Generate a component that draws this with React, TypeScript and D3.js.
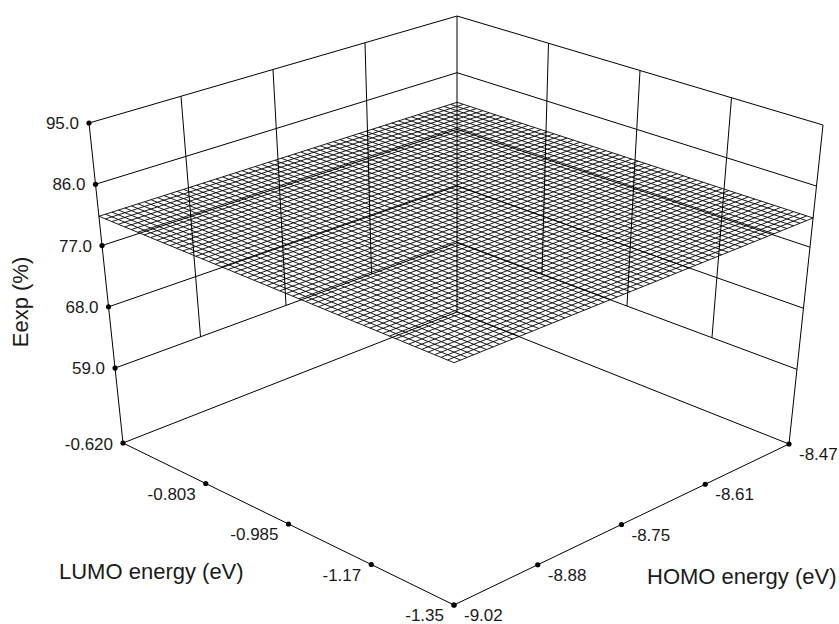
import { useEffect, useRef } from "react"
import * as d3 from "d3"

// HOMO energy axis (eV)
const homoTicks = [-9.02, -8.8825, -8.745, -8.6075, -8.47]
const homoLabels = ["-9.02", "-8.88", "-8.75", "-8.61", "-8.47"]

// LUMO energy axis (eV)
const lumoTicks = [-1.35, -1.1675, -0.985, -0.8025, -0.62]
const lumoLabels = ["-1.35", "-1.17", "-0.985", "-0.803", "-0.620"]

// Eexp (%) axis, the box floor sits a little under the first tick
const eexpTicks = [59, 68, 77, 86, 95]
const eexpLabels = ["59.0", "68.0", "77.0", "86.0", "95.0"]
const eexpFloor = 48

// fitted model in coded units: intercept, HOMO, LUMO (almost a flat plane)
const modelCoef = [81.3, 0.0, 0.0]
const meshSteps = 55

type P3 = [number, number, number]

const App = () => {
  const svgRef = useRef<SVGSVGElement>(null)

  useEffect(() => {
    if (!svgRef.current) return
    const svg = d3.select(svgRef.current)
    svg.selectAll("*").remove()

    const font = "'Liberation Sans', Arial, Helvetica, sans-serif"
    const ink = "#000"

    const homoDom = [homoTicks[0], homoTicks[homoTicks.length - 1]]
    const lumoDom = [lumoTicks[0], lumoTicks[lumoTicks.length - 1]]
    const eexpTop = eexpTicks[eexpTicks.length - 1]

    const xs = d3.scaleLinear().domain(homoDom).range([0, 1])
    const ys = d3.scaleLinear().domain(lumoDom).range([0, 1])
    const zs = d3.scaleLinear().domain([eexpFloor, eexpTop]).range([0, 1])

    // screen corners of the box (front/right/left/back) at floor and top
    const floor = { f: [454, 605], r: [789, 444], l: [123, 443], b: [457, 312] }
    const top = { f: [454, 263], r: [823, 125], l: [89, 123], b: [457, 16] }

    const bilerp = (c: typeof floor, u: number, v: number) => {
      const wf = (1 - u) * (1 - v), wr = u * (1 - v), wl = (1 - u) * v, wb = u * v
      return [
        c.f[0] * wf + c.r[0] * wr + c.l[0] * wl + c.b[0] * wb,
        c.f[1] * wf + c.r[1] * wr + c.l[1] * wl + c.b[1] * wb,
      ]
    }

    const project = ([h, l, e]: P3): [number, number] => {
      const u = xs(h), v = ys(l), t = zs(e)
      const a = bilerp(floor, u, v)
      const b = bilerp(top, u, v)
      return [a[0] * (1 - t) + b[0] * t, a[1] * (1 - t) + b[1] * t]
    }

    const line = d3.line<P3>().x((d) => project(d)[0]).y((d) => project(d)[1])

    const h0 = homoDom[0], h1 = homoDom[1]
    const l0 = lumoDom[0], l1 = lumoDom[1]

    const segs: P3[][] = []
    // back-left wall (LUMO = -0.620)
    eexpTicks.forEach((e) => segs.push([[h0, l1, e], [h1, l1, e]]))
    homoTicks.slice(1, -1).forEach((h) => segs.push([[h, l1, eexpTicks[0]], [h, l1, eexpTop]]))
    // back-right wall (HOMO = -8.47)
    eexpTicks.forEach((e) => segs.push([[h1, l0, e], [h1, l1, e]]))
    lumoTicks.slice(1, -1).forEach((l) => segs.push([[h1, l, eexpTicks[0]], [h1, l, eexpTop]]))
    // vertical edges
    segs.push([[h0, l1, eexpFloor], [h0, l1, eexpTop]])
    segs.push([[h1, l1, eexpFloor], [h1, l1, eexpTop]])
    segs.push([[h1, l0, eexpFloor], [h1, l0, eexpTop]])
    // floor edges
    segs.push([[h0, l1, eexpFloor], [h1, l1, eexpFloor]])
    segs.push([[h1, l0, eexpFloor], [h1, l1, eexpFloor]])
    segs.push([[h0, l0, eexpFloor], [h0, l1, eexpFloor]])
    segs.push([[h0, l0, eexpFloor], [h1, l0, eexpFloor]])

    svg
      .append("g")
      .selectAll("path")
      .data(segs)
      .join("path")
      .attr("d", (d) => line(d))
      .attr("fill", "none")
      .attr("stroke", ink)
      .attr("stroke-width", 1)

    // response surface mesh
    const model = (h: number, l: number) => {
      const ch = xs(h) * 2 - 1
      const cl = ys(l) * 2 - 1
      return modelCoef[0] + modelCoef[1] * ch + modelCoef[2] * cl
    }
    const hGrid = d3.range(meshSteps + 1).map((i) => xs.invert(i / meshSteps))
    const lGrid = d3.range(meshSteps + 1).map((i) => ys.invert(i / meshSteps))
    const mesh: P3[][] = []
    hGrid.forEach((h) => mesh.push(lGrid.map((l) => [h, l, model(h, l)] as P3)))
    lGrid.forEach((l) => mesh.push(hGrid.map((h) => [h, l, model(h, l)] as P3)))

    svg
      .append("g")
      .selectAll("path")
      .data(mesh)
      .join("path")
      .attr("d", (d) => line(d))
      .attr("fill", "none")
      .attr("stroke", ink)
      .attr("stroke-width", 0.9)

    // tick dots
    const dots: P3[] = [
      ...eexpTicks.map((e) => [h0, l1, e] as P3),
      ...lumoTicks.map((l) => [h0, l, eexpFloor] as P3),
      ...homoTicks.map((h) => [h, l0, eexpFloor] as P3),
    ]
    svg
      .append("g")
      .selectAll("circle")
      .data(dots)
      .join("circle")
      .attr("cx", (d) => project(d)[0])
      .attr("cy", (d) => project(d)[1])
      .attr("r", 2.6)
      .attr("fill", ink)

    const tickText = svg.append("g").attr("font-family", font).attr("font-size", 17).attr("fill", "#1a1a1a")

    eexpTicks.forEach((e, i) => {
      const [px, py] = project([h0, l1, e])
      tickText.append("text").attr("x", px - 10).attr("y", py + 6).attr("text-anchor", "end").text(eexpLabels[i])
    })
    lumoTicks.forEach((l, i) => {
      const [px, py] = project([h0, l, eexpFloor])
      const last = i === lumoTicks.length - 1
      tickText
        .append("text")
        .attr("x", px - 10)
        .attr("y", last ? py + 7 : py + 16)
        .attr("text-anchor", "end")
        .text(lumoLabels[i])
    })
    homoTicks.forEach((h, i) => {
      const [px, py] = project([h, l0, eexpFloor])
      tickText.append("text").attr("x", px + 10).attr("y", py + 16).text(homoLabels[i])
    })

    // axis titles
    const titles = svg.append("g").attr("font-family", font).attr("font-size", 22).attr("fill", "#1a1a1a")
    titles.append("text").attr("transform", "translate(28,302) rotate(-90)").attr("text-anchor", "middle").text("Eexp (%)")
    titles.append("text").attr("x", 59).attr("y", 579).text("LUMO energy (eV)")
    titles.append("text").attr("x", 647).attr("y", 584).text("HOMO energy (eV)")
  }, [])

  return (
    <svg
      ref={svgRef}
      width={839}
      height={624}
      style={{ position: "absolute", left: 0, top: 0, background: "#fff", display: "block" }}
    />
  )
}

export default App
